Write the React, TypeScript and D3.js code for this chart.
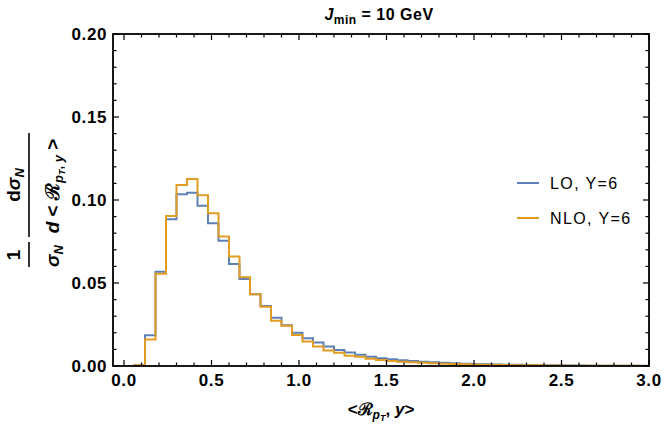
import React from "react";
import * as d3 from "d3";

// Bin lower edges (width 0.06)
const binWidth = 0.06;
const binStarts = [
  0.06, 0.12, 0.18, 0.24, 0.30, 0.36, 0.42, 0.48, 0.54, 0.60,
  0.66, 0.72, 0.78, 0.84, 0.90, 0.96, 1.02, 1.08, 1.14, 1.20,
  1.26, 1.32, 1.38, 1.44, 1.50, 1.56, 1.62, 1.68, 1.74, 1.80,
  1.86, 1.92, 1.98, 2.04, 2.10, 2.16, 2.22, 2.28, 2.34, 2.40,
  2.46, 2.52, 2.58, 2.64, 2.70, 2.76, 2.82, 2.88, 2.94,
];

const loValues = [
  0.0005, 0.0185, 0.0568, 0.0884, 0.1034, 0.1044, 0.0966, 0.0860, 0.0755, 0.0614,
  0.0524, 0.0432, 0.0361, 0.0291, 0.0245, 0.0201, 0.0167, 0.0141, 0.0117, 0.0096,
  0.0082, 0.0068, 0.0056, 0.0047, 0.0040, 0.0035, 0.0030, 0.0026, 0.0022, 0.0019,
  0.0016, 0.0014, 0.0012, 0.0010, 0.0009, 0.0008, 0.0007, 0.0006, 0.0005, 0.0004,
  0.0004, 0.0003, 0.0003, 0.0002, 0.0002, 0.0002, 0.0001, 0.0001, 0.0001,
];

const nloValues = [
  0.0005, 0.0160, 0.0556, 0.0904, 0.1090, 0.1127, 0.1028, 0.0920, 0.0780, 0.0659,
  0.0534, 0.0432, 0.0357, 0.0273, 0.0243, 0.0187, 0.0147, 0.0117, 0.0094, 0.0080,
  0.0062, 0.0056, 0.0043, 0.0036, 0.0030, 0.0026, 0.0022, 0.0019, 0.0016, 0.0014,
  0.0012, 0.0010, 0.0009, 0.0008, 0.0007, 0.0006, 0.0005, 0.0004, 0.0004, 0.0003,
  0.0003, 0.0002, 0.0002, 0.0002, 0.0001, 0.0001, 0.0001, 0.0001, 0.0000,
];

const xMajorTicks = [0, 0.5, 1.0, 1.5, 2.0, 2.5, 3.0];
const xTickLabels = ["0.0", "0.5", "1.0", "1.5", "2.0", "2.5", "3.0"];
const yMajorTicks = [0, 0.05, 0.1, 0.15, 0.2];
const yTickLabels = ["0.00", "0.05", "0.10", "0.15", "0.20"];
const seriesNames = ["LO, Y=6", "NLO, Y=6"];
const seriesColors = ["#5E81B5", "#E19C24"];

const W = 664;
const H = 426;
const frame = { left: 113, right: 649, top: 34, bottom: 366 };
const FONT = "'Liberation Sans', Arial, Helvetica, sans-serif";

const x = d3.scaleLinear().domain([0, 3]).range([124, 649]);
const y = d3.scaleLinear().domain([0, 0.2]).range([366, 34]);

function stepPoints(values: number[]): [number, number][] {
  const pts: [number, number][] = [];
  pts.push([binStarts[0], 0]);
  values.forEach((v, i) => {
    pts.push([binStarts[i], v]);
    pts.push([binStarts[i] + binWidth, v]);
  });
  pts.push([binStarts[binStarts.length - 1] + binWidth, 0]);
  return pts;
}

const line = d3
  .line<[number, number]>()
  .x((d) => x(d[0]))
  .y((d) => y(d[1]));

export default function App() {
  React.useEffect(() => {
    document.body.style.margin = "0";
  }, []);

  const xMinor = d3.range(0, 3.0001, 0.1).filter(
    (t) => !xMajorTicks.some((m) => Math.abs(m - t) < 1e-6)
  );
  const yMinor = d3.range(0, 0.2001, 0.01).filter(
    (t) => !yMajorTicks.some((m) => Math.abs(m - t) < 1e-6)
  );
  const majorLen = 6;
  const minorLen = 3.5;

  return (
    <svg
      width={W}
      height={H}
      style={{ position: "absolute", left: 0, top: 0, background: "#fff" }}
      fontFamily={FONT}
    >
      <defs>
        <clipPath id="plotClip">
          <rect
            x={frame.left}
            y={frame.top}
            width={frame.right - frame.left}
            height={frame.bottom - frame.top}
          />
        </clipPath>
      </defs>

      {/* histograms */}
      <g clipPath="url(#plotClip)">
        <path
          d={line(stepPoints(loValues)) || ""}
          fill="none"
          stroke={seriesColors[0]}
          strokeWidth={2}
          strokeLinejoin="miter"
        />
        <path
          d={line(stepPoints(nloValues)) || ""}
          fill="none"
          stroke={seriesColors[1]}
          strokeWidth={2}
          strokeLinejoin="miter"
        />
      </g>

      {/* ticks */}
      <g stroke="#000" strokeWidth={1.2}>
        {xMajorTicks.map((t, i) => (
          <g key={"xm" + i}>
            <line x1={x(t)} x2={x(t)} y1={frame.bottom} y2={frame.bottom - majorLen} />
            <line x1={x(t)} x2={x(t)} y1={frame.top} y2={frame.top + majorLen} />
          </g>
        ))}
        {xMinor.map((t, i) => (
          <g key={"xn" + i}>
            <line x1={x(t)} x2={x(t)} y1={frame.bottom} y2={frame.bottom - minorLen} />
            <line x1={x(t)} x2={x(t)} y1={frame.top} y2={frame.top + minorLen} />
          </g>
        ))}
        {yMajorTicks.map((t, i) => (
          <g key={"ym" + i}>
            <line x1={frame.left} x2={frame.left + majorLen} y1={y(t)} y2={y(t)} />
            <line x1={frame.right} x2={frame.right - majorLen} y1={y(t)} y2={y(t)} />
          </g>
        ))}
        {yMinor.map((t, i) => (
          <g key={"yn" + i}>
            <line x1={frame.left} x2={frame.left + minorLen} y1={y(t)} y2={y(t)} />
            <line x1={frame.right} x2={frame.right - minorLen} y1={y(t)} y2={y(t)} />
          </g>
        ))}
      </g>

      {/* frame */}
      <rect
        x={frame.left}
        y={frame.top}
        width={frame.right - frame.left}
        height={frame.bottom - frame.top}
        fill="none"
        stroke="#000"
        strokeWidth={1.8}
      />

      {/* tick labels */}
      <g fontSize={17} fontWeight="bold" fill="#000">
        {xMajorTicks.map((t, i) => (
          <text key={"xl" + i} x={x(t)} y={386} textAnchor="middle" letterSpacing={0.6}>
            {xTickLabels[i]}
          </text>
        ))}
        {yMajorTicks.map((t, i) => (
          <text
            key={"yl" + i}
            x={107}
            y={y(t)}
            dy="0.36em"
            textAnchor="end"
            letterSpacing={0.6}
          >
            {yTickLabels[i]}
          </text>
        ))}
      </g>

      {/* title */}
      <text x={379} y={20} textAnchor="middle" fontSize={16} fontWeight="bold" letterSpacing={0.5}>
        <tspan fontStyle="italic">J</tspan>
        <tspan fontSize={12} dy={4}>min</tspan>
        <tspan dy={-4}>{" = 10  GeV"}</tspan>
      </text>

      {/* x label */}
      <text x={381} y={415} textAnchor="middle" fontSize={17} fontWeight="bold">
        <tspan>{"<\u211B"}</tspan>
        <tspan fontSize={12} dy={4} fontStyle="italic">p</tspan>
        <tspan fontSize={9} dy={2} fontStyle="italic">T</tspan>
        <tspan fontSize={17} dy={-6}>{", "}</tspan>
        <tspan fontStyle="italic">y</tspan>
        <tspan>{">"}</tspan>
      </text>

      {/* y label (rotated fractions) */}
      <g fontWeight="bold" fontSize={19} fill="#000">
        <text transform="translate(20,255) rotate(-90)" textAnchor="middle">
          1
        </text>
        <line x1={29} x2={29} y1={242} y2={267} stroke="#000" strokeWidth={1.6} />
        <text transform="translate(59,256) rotate(-90)" textAnchor="middle">
          <tspan fontStyle="italic">{"\u03C3"}</tspan>
          <tspan fontSize={13} dy={4} fontStyle="italic">N</tspan>
        </text>

        <text transform="translate(20,185) rotate(-90)" textAnchor="middle">
          <tspan>d</tspan>
          <tspan fontStyle="italic">{"\u03C3"}</tspan>
          <tspan fontSize={13} dy={4} fontStyle="italic">N</tspan>
        </text>
        <line x1={29} x2={29} y1={133} y2={237} stroke="#000" strokeWidth={1.6} />
        <text transform="translate(59,186) rotate(-90)" textAnchor="middle">
          <tspan fontStyle="italic">d</tspan>
          <tspan>{" < \u211B"}</tspan>
          <tspan fontSize={13} dy={4} fontStyle="italic">p</tspan>
          <tspan fontSize={9} dy={2} fontStyle="italic">T</tspan>
          <tspan fontSize={13} dy={-2}>{", "}</tspan>
          <tspan fontSize={13} fontStyle="italic">y</tspan>
          <tspan fontSize={19} dy={-4}>{" >"}</tspan>
        </text>
      </g>

      {/* legend */}
      <g fontSize={16} letterSpacing={1.4}>
        {seriesNames.map((name, i) => (
          <g key={"lg" + i}>
            <line
              x1={517}
              x2={539}
              y1={183 + i * 35}
              y2={183 + i * 35}
              stroke={seriesColors[i]}
              strokeWidth={2}
            />
            <text x={550} y={189 + i * 35} fill="#000">
              {name}
            </text>
          </g>
        ))}
      </g>
    </svg>
  );
}
